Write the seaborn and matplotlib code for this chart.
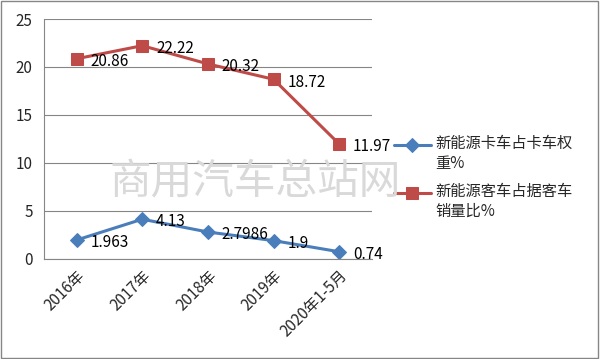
import seaborn as sns
import matplotlib.pyplot as plt
import matplotlib.patches as patches
import numpy as np

categories = ["2016年", "2017年", "2018年", "2019年", "2020年1-5月"]
truck_share = [1.963, 4.13, 2.7986, 1.9, 0.74]
bus_share = [20.86, 22.22, 20.32, 18.72, 11.97]
truck_labels = ["1.963", "4.13", "2.7986", "1.9", "0.74"]
bus_labels = ["20.86", "22.22", "20.32", "18.72", "11.97"]
truck_name = "新能源卡车占卡车权\n重%"
bus_name = "新能源客车占据客车\n销量比%"

sns.set_style("white")
plt.rcParams['font.family'] = ['Noto Sans CJK SC', 'DejaVu Sans']

fig = plt.figure(figsize=(6, 3.59), dpi=100)
ax = fig.add_axes([0.073, 0.279, 0.547, 0.668])

x = np.arange(len(categories))
blue = "#4a7ebb"
red = "#be4b48"
fs = 11

sns.lineplot(x=x, y=truck_share, ax=ax, color=blue, lw=2.2, marker="D",
             markersize=7.5, markeredgecolor=blue, label=truck_name)
sns.lineplot(x=x, y=bus_share, ax=ax, color=red, lw=2.2, marker="s",
             markersize=8, markeredgecolor=red, label=bus_name)

for xi, v, t in zip(x, truck_share, truck_labels):
    ax.annotate(t, (xi, v), xytext=(10, -2), textcoords="offset points",
                fontsize=fs, va="center", ha="left", color="black")
for xi, v, t in zip(x, bus_share, bus_labels):
    ax.annotate(t, (xi, v), xytext=(10, -2), textcoords="offset points",
                fontsize=fs, va="center", ha="left", color="black")

ax.set_xlim(-0.5, len(categories) - 0.5)
ax.set_ylim(0, 25)
ax.set_yticks(range(0, 26, 5))
ax.set_xticks(x)
ax.set_xticklabels(categories, rotation=45, ha="right", rotation_mode="anchor",
                   fontsize=fs)
ax.tick_params(axis="y", labelsize=fs, length=4, color="#868686", pad=4)
ax.tick_params(axis="x", length=0, pad=6)
ax.set_xticks(np.arange(-0.5, len(categories)), minor=True)
ax.tick_params(axis="x", which="minor", length=4, color="#868686")
ax.grid(axis="y", color="#868686", lw=0.8)
ax.set_axisbelow(True)
for s in ["top", "right"]:
    ax.spines[s].set_visible(False)
for s in ["left", "bottom"]:
    ax.spines[s].set_color("#868686")
    ax.spines[s].set_linewidth(0.8)

leg = ax.legend(loc="center left", bbox_to_anchor=(1.03, 0.34), frameon=False,
                fontsize=fs, handlelength=2.4, labelspacing=0.75,
                handletextpad=0.3, borderaxespad=0.4)
# handle sits beside the first line of each label, as in the original
for ln in leg.get_lines():
    ln.set_ydata(np.asarray(ln.get_ydata(), dtype=float) + 6.5)

fig.text(0.425, 0.49, "商用汽车总站网", fontsize=30, color="#d9d9d9",
         fontweight="light", ha="center", va="center", zorder=0)

fig.patches.append(patches.Rectangle((0.002, 0.003), 0.995, 0.993,
                                     transform=fig.transFigure, fill=False,
                                     edgecolor="#868686", lw=1))

fig.savefig("out.png", dpi=100)
